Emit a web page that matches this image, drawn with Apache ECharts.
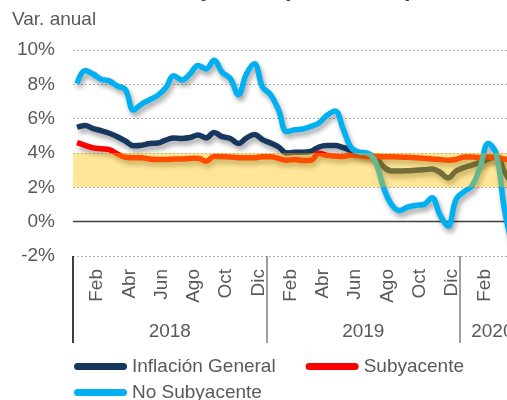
<!DOCTYPE html>
<html><head><meta charset="utf-8">
<script src="https://cdn.jsdelivr.net/npm/echarts@6/dist/echarts.min.js"></script>
<style>html,body{margin:0;padding:0;background:#fff;overflow:hidden;width:507px;height:400px}#c{width:526px;height:400px}</style>
</head><body><div id="c"></div>
<script>
// ---- data (biweekly annual inflation, %) ----
const monthNames = ['Ene','Feb','Mar','Abr','May','Jun','Jul','Ago','Sep','Oct','Nov','Dic'];
const yearLabels = ['2018','2019','2020'];
const monthsIn2020 = 4;
const general = [5.5,5.6,5.42,5.3,5.15,4.95,4.7,4.42,4.45,4.55,4.58,4.75,4.87,4.85,4.9,5.05,4.88,5.2,4.95,4.85,4.55,4.87,5.08,4.78,4.58,4.35,4.0,4.05,4.05,4.1,4.35,4.43,4.43,4.32,4.15,4.0,3.95,3.75,3.2,2.95,2.95,2.97,3.0,3.02,3.07,2.88,2.55,2.95,3.15,3.3,3.45,3.65,3.8,2.9,2.2];
const subyacente = [4.6,4.45,4.3,4.25,4.2,3.95,3.75,3.72,3.72,3.65,3.62,3.62,3.65,3.65,3.68,3.7,3.52,3.8,3.78,3.77,3.73,3.72,3.72,3.78,3.78,3.68,3.58,3.62,3.56,3.58,3.98,3.86,3.82,3.8,3.88,3.85,3.8,3.8,3.78,3.78,3.77,3.75,3.72,3.7,3.65,3.62,3.58,3.62,3.76,3.77,3.74,3.76,3.72,3.65,3.6];
const noSubyacente = [8.05,8.8,8.6,8.3,8.2,7.9,7.7,6.5,6.85,7.1,7.35,7.8,8.5,8.25,8.6,9.1,8.9,9.4,8.7,8.35,7.4,8.6,9.2,7.85,7.4,6.5,5.25,5.35,5.4,5.55,5.75,6.2,6.45,5.4,4.3,4.05,4.0,3.5,2.0,1.0,0.65,0.85,0.95,1.0,1.4,0.4,-0.25,1.3,1.75,2.1,3.2,4.55,3.9,0.7,-1.5];
const targetLow = 2, targetHigh = 4;
const yTicks = {min: -2, max: 10, step: 2};

// ---- build ----
const FONT = "'Liberation Sans', Arial, sans-serif";
const GRAY = '#595959';
const monthCats = [];
yearLabels.forEach((y, yi) => {
  const n = yi < yearLabels.length - 1 ? 12 : monthsIn2020;
  for (let m = 0; m < n; m++) monthCats.push(monthNames[m]);
});
const nMonths = monthCats.length;
const yearCats = new Array(nMonths + 1).fill('');
yearLabels.forEach((y, yi) => {
  const start = yi * 12, end = Math.min(start + 12, nMonths);
  yearCats[Math.round((start + end) / 2)] = y;
});
const toPts = arr => arr.map((v, i) => [i / 2 + 0.25, v]);
const lineShadow = {shadowColor: 'rgba(0,0,0,0.35)', shadowBlur: 5, shadowOffsetX: 2, shadowOffsetY: 4};
const icon = 'path://M3.5,0H49.5A3.5,3.5,0,0,1,49.5,7H3.5A3.5,3.5,0,0,1,3.5,0Z';
const legendBase = {
  left: 74, padding: 0, itemWidth: 53, itemHeight: 7, itemGap: 30, icon: icon, selectedMode: false,
  itemStyle: {shadowBlur: 0, shadowColor: 'transparent'},
  textStyle: {color: GRAY, fontSize: 19, fontFamily: FONT}
};

const chart = echarts.init(document.getElementById('c'), null, {renderer: 'canvas'});
chart.setOption({
  animation: false,
  backgroundColor: '#fff',
  graphic: [
    {type: 'text', left: 3, top: -22, style: {text: 'Inflación General y Principales Componentes', fill: '#404040', font: "bold 23.5px 'Liberation Sans', Arial"}},
    {type: 'text', left: 12, top: 10, style: {text: 'Var. anual', fill: GRAY, font: "19px 'Liberation Sans', Arial"}}
  ],
  legend: [
    Object.assign({}, legendBase, {top: 357, data: ['Inflación General', 'Subyacente']}),
    Object.assign({}, legendBase, {top: 383, data: ['No Subyacente']})
  ],
  grid: {left: 73, right: 0, top: 50, bottom: 144},
  xAxis: [
    {type: 'value', min: 0, max: nMonths, show: false, position: 'top'},
    {type: 'category', data: monthCats, boundaryGap: true, position: 'bottom',
     axisLine: {show: false},
     axisTick: {show: true, interval: (i) => i === 0, length: 87, lineStyle: {color: '#000', width: 1.5}},
     axisLabel: {interval: (i) => i % 2 === 1, rotate: 90, margin: 13, color: GRAY, fontSize: 19, fontFamily: FONT}},
    {type: 'category', data: yearCats, boundaryGap: false, position: 'bottom',
     axisLine: {show: false},
     axisTick: {show: true, interval: (i) => i > 0 && i % 12 === 0, length: 87, lineStyle: {color: '#808080', width: 1.5}},
     axisLabel: {interval: (i, v) => v !== '', margin: 66, color: GRAY, fontSize: 19, fontFamily: FONT}}
  ],
  yAxis: {
    type: 'value', min: yTicks.min, max: yTicks.max, interval: yTicks.step,
    axisLine: {show: false}, axisTick: {show: false},
    axisLabel: {formatter: '{value}%', margin: 18, color: GRAY, fontSize: 19, fontFamily: FONT},
    splitLine: {lineStyle: {type: [2, 2], color: '#B0B0B0', width: 1}}
  },
  series: [
    {name: 'Inflación General', type: 'line', xAxisIndex: 0, data: toPts(general), smooth: 0.4, symbol: 'none',
     color: '#17375E', lineStyle: Object.assign({width: 5.5, color: '#17375E'}, lineShadow),
     markLine: {silent: true, z: 1, symbol: 'none', label: {show: false},
       lineStyle: {type: 'solid', color: '#404040', width: 1.3}, data: [{yAxis: 0}]}},
    {name: 'Subyacente', type: 'line', xAxisIndex: 0, data: toPts(subyacente), smooth: 0.4, symbol: 'none',
     color: '#FF0000', lineStyle: Object.assign({width: 5.5, color: '#FF0000'}, lineShadow)},
    {name: 'No Subyacente', type: 'line', xAxisIndex: 0, data: toPts(noSubyacente), smooth: 0.4, symbol: 'none',
     color: '#00B0F0', lineStyle: Object.assign({width: 5.5, color: '#00B0F0'}, lineShadow),
     markArea: {silent: true, z: 10, itemStyle: {color: 'rgba(255,192,0,0.4)'},
       data: [[{yAxis: targetLow}, {yAxis: targetHigh}]]}}
  ]
});
</script>
</body></html>
